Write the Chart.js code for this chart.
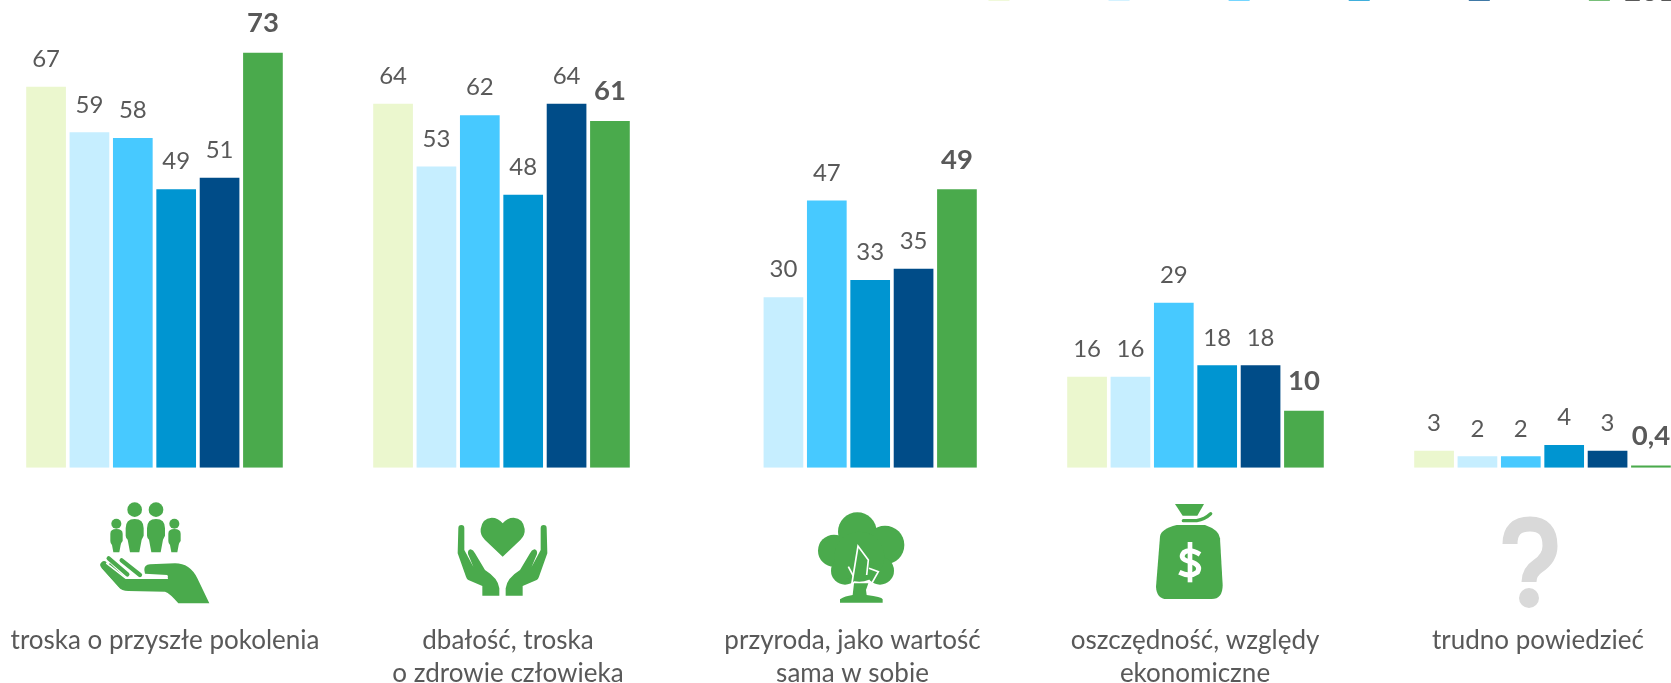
<!DOCTYPE html>
<html lang="pl"><head><meta charset="utf-8">
<style>html,body{margin:0;padding:0;background:#fff;overflow:hidden;width:1671px;height:683px}
#wrap{position:absolute;left:0;top:0;width:1671px;height:683px;overflow:hidden}
canvas{position:absolute;left:-19px;top:-40px}</style>
<script src="https://cdn.jsdelivr.net/npm/chart.js@4/dist/chart.umd.min.js"></script>
</head><body><div id="wrap"><canvas id="c" width="1735" height="723"></canvas></div>
<script>
const categories = [
  ['troska o przyszłe pokolenia'],
  ['dbałość, troska','o zdrowie człowieka'],
  ['przyroda, jako wartość','sama w sobie'],
  ['oszczędność, względy','ekonomiczne'],
  ['trudno powiedzieć']
];
const seriesNames = ['2010','2011','2012','2013','2014','2015'];
const s0 = [67,64,null,16,3];
const s1 = [59,53,30,16,2];
const s2 = [58,62,47,29,2];
const s3 = [49,48,33,18,4];
const s4 = [51,64,35,18,3];
const s5 = [73,61,49,10,0.4];
const colors = ['#EBF7CE','#C6EEFF','#47C9FF','#0095D1','#004C88','#4AAA4C'];
const allSeries = [s0,s1,s2,s3,s4,s5];
const labelCenters = [165,508,852.5,1195,1538];
const OX = 19, OY = 40;
const GREEN = '#4AAA4C', GREY = '#D9D9D9';

function circle(ctx,x,y,r){ctx.beginPath();ctx.arc(x,y,r,0,Math.PI*2);ctx.fill();}
function icon(ctx,px,py,s,fn){ctx.save();ctx.translate(px+OX,py+OY);ctx.scale(s,s);ctx.fillStyle=GREEN;ctx.strokeStyle=GREEN;ctx.lineCap='round';ctx.lineJoin='round';fn(ctx);ctx.restore();}

function people(ctx){
  circle(ctx,134,44,22);circle(ctx,198,44,22);circle(ctx,79,86,15);circle(ctx,253,86,15);
  const big=new Path2D('M107 100 Q107 72 134 72 Q161 72 161 100 L161 122 Q157 130 155 134 L148 172 L120 172 L113 134 Q107 128 107 122 Z');
  const small=new Path2D('M61 116 Q61 102 79 102 Q98 102 98 116 L98 138 Q92 145 92 150 L88 172 L70 172 L66 150 Q61 145 61 138 Z');
  ctx.fill(big);ctx.save();ctx.translate(64,0);ctx.fill(big);ctx.restore();
  ctx.fill(small);ctx.save();ctx.translate(174,0);ctx.fill(small);ctx.restore();
  ctx.fill(new Path2D('M34 218 L85 275 Q95 288 115 288 L225 290 Q240 295 265 325 L358 325 L322 250 Q300 205 255 205 L180 208 Q162 210 163 225 L165 236 L232 240 Q236 245 232 250 L108 250 L60 205 Z'));
  ctx.lineWidth=22;ctx.beginPath();ctx.moveTo(42,210);ctx.lineTo(95,268);ctx.stroke();
  ctx.lineWidth=13;ctx.beginPath();ctx.moveTo(56,190);ctx.lineTo(112,238);ctx.stroke();
  ctx.beginPath();ctx.moveTo(95,196);ctx.lineTo(150,240);ctx.stroke();
  ctx.strokeStyle='#fff';ctx.lineWidth=4.5;ctx.beginPath();ctx.moveTo(50,205);ctx.lineTo(108,250);ctx.lineTo(232,250);ctx.stroke();
}
function hands(ctx){
  ctx.fill(new Path2D('M188 155 L135 105 Q120 90 122 72 Q126 40 155 38 Q175 38 188 55 Q201 38 221 38 Q250 40 254 72 Q256 90 241 105 Z'));
  const h=new Path2D('M55 70 Q55 60 64 60 Q73 60 73 70 L73 135 L100 185 L84 147 Q82 135 92 133 Q100 135 105 145 L135 195 Q175 220 178 250 L178 272 L127 272 L127 243 L85 225 Q80 222 78 215 L53 145 Z');
  ctx.fill(h);ctx.save();ctx.translate(375,0);ctx.scale(-1,1);ctx.fill(h);ctx.restore();
}
function tree(ctx){
  circle(ctx,172,95,58);circle(ctx,102,152,48);circle(ctx,255,135,58);circle(ctx,135,212,42);circle(ctx,240,212,42);circle(ctx,178,170,75);
  ctx.fill(new Path2D('M120 308 L120 298 Q135 288 158 285 L162 250 L205 250 L198 270 L200 285 Q245 290 248 298 L248 308 Z'));
  ctx.strokeStyle='#fff';ctx.lineWidth=5;ctx.lineCap='butt';ctx.lineJoin='miter';
  ctx.beginPath();ctx.moveTo(155,255);ctx.lineTo(174,138);ctx.lineTo(205,180);ctx.lineTo(200,225);ctx.stroke();
  ctx.beginPath();ctx.moveTo(207,205);ctx.lineTo(235,215);ctx.lineTo(205,268);ctx.stroke();
  ctx.beginPath();ctx.moveTo(145,200);ctx.lineTo(160,228);ctx.stroke();
}
function bag(ctx){
  ctx.fill(new Path2D('M105 27 L192 27 L172 62 L128 62 Z'));
  ctx.lineWidth=10;ctx.beginPath();ctx.moveTo(130,77);ctx.lineTo(170,77);ctx.quadraticCurveTo(195,72,212,56);ctx.stroke();
  ctx.fill(new Path2D('M60 125 Q62 102 110 90 L195 90 Q238 105 240 130 L248 270 Q248 312 215 312 L80 312 Q50 312 48 275 Z'));
  ctx.strokeStyle='#fff';ctx.lineWidth=15;ctx.lineCap='butt';
  ctx.beginPath();ctx.moveTo(180,178);ctx.quadraticCurveTo(150,160,132,172);ctx.quadraticCurveTo(115,192,150,200);ctx.quadraticCurveTo(186,210,172,232);ctx.quadraticCurveTo(150,248,118,232);ctx.stroke();
  ctx.lineWidth=14;ctx.beginPath();ctx.moveTo(150,141);ctx.lineTo(150,262);ctx.stroke();
}
function question(ctx){
  ctx.strokeStyle=GREY;ctx.fillStyle=GREY;ctx.lineWidth=15;ctx.lineCap='butt';
  ctx.beginPath();ctx.moveTo(8,28);ctx.quadraticCurveTo(8,8,28,8);ctx.quadraticCurveTo(48,8,48,30);ctx.quadraticCurveTo(48,42,36,50);ctx.quadraticCurveTo(27,56,27,66);ctx.stroke();
  circle(ctx,27,82,10);
}

const decor = {
  id:'decor',
  afterDraw(chart){
    const ctx=chart.ctx;
    ctx.save();ctx.textAlign='center';ctx.textBaseline='middle';ctx.fillStyle='#595959';
    chart.data.datasets.forEach((ds,di)=>{
      const bold=di===chart.data.datasets.length-1;
      ctx.font=(bold?'700 27.5px':'400 24px')+' Lato';
      chart.getDatasetMeta(di).data.forEach((el,i)=>{
        const v=ds.data[i]; if(v==null) return;
        ctx.fillText(String(v).replace('.',','),el.x,el.y-(bold?29.5:27.5));
      });
    });
    ctx.font='400 26px Lato';
    categories.forEach((lines,i)=>lines.forEach((t,j)=>ctx.fillText(t,labelCenters[i]+OX,641+33*j+OY)));
    ctx.restore();
    icon(ctx,90,495,1/3,people);
    icon(ctx,440,505,1/3,hands);
    icon(ctx,800,500,1/3,tree);
    icon(ctx,1140,495,1/3,bag);
    icon(ctx,1502,516,1,question);
  }
};

new Chart(document.getElementById('c'),{
  type:'bar',
  data:{labels:categories,datasets:allSeries.map((d,i)=>({label:seriesNames[i],data:d,backgroundColor:colors[i],categoryPercentage:0.75,barPercentage:0.915}))},
  options:{
    responsive:false,animation:false,devicePixelRatio:1,
    layout:{padding:{left:0,right:0,top:0,bottom:215.3}},
    plugins:{
      tooltip:{enabled:false},
      legend:{display:true,position:'top',align:'end',
        labels:{boxWidth:21,boxHeight:18,padding:17.3,color:'#595959',font:{family:'Lato',size:29,weight:'700'},
          generateLabels(chart){
            const items=Chart.defaults.plugins.legend.labels.generateLabels(chart);
            items.forEach((it,i)=>{it.lineWidth=0;it.fontColor=i===items.length-1?'#595959':'rgba(89,89,89,0)';});
            items[items.length-1].text+='\u00A0';
            return items;
          }}}
    },
    scales:{
      x:{display:false},
      y:{display:false,min:0,max:79.4}
    }
  },
  plugins:[decor]
});
</script></body></html>
